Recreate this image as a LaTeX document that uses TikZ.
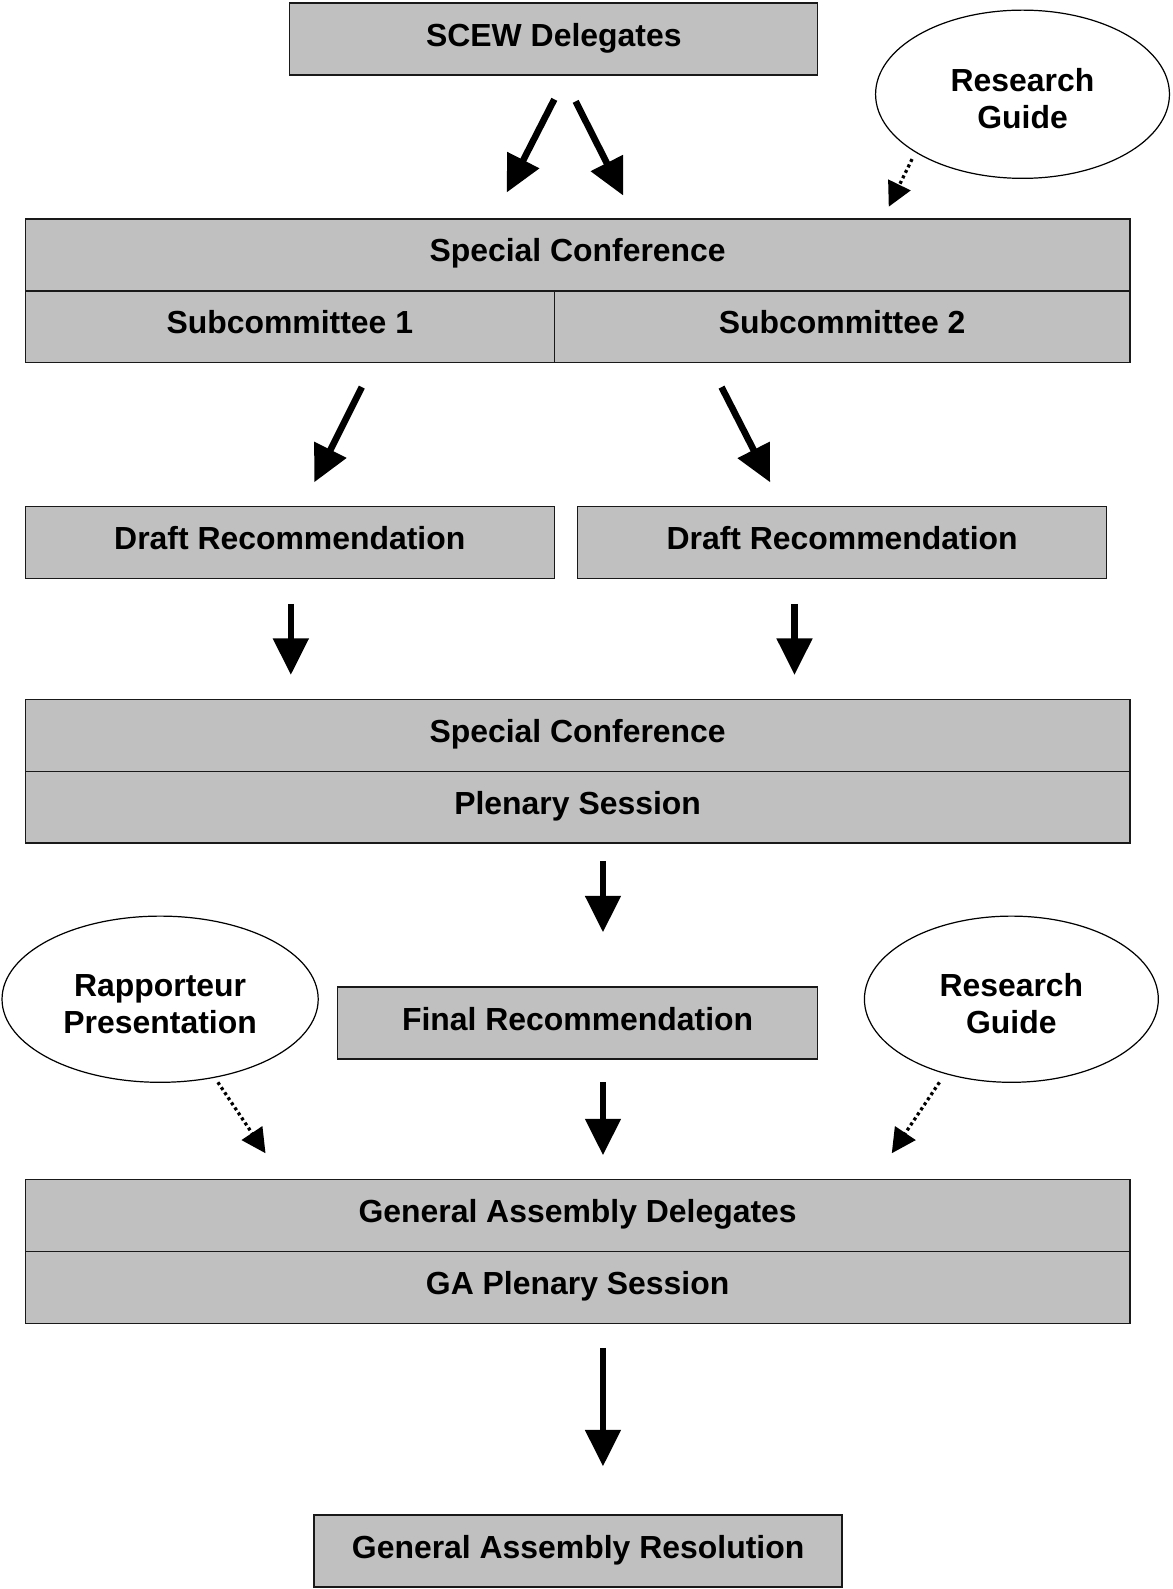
\documentclass[tikz,border=0pt]{standalone}
\usepackage{fontspec}
\setmainfont{Liberation Sans}
\usetikzlibrary{shapes.geometric,arrows.meta}
\definecolor{boxgray}{RGB}{192,192,192}
\begin{document}
\begin{tikzpicture}[x=1pt,y=-1pt,
 box/.style={draw=black!90,line width=1.3pt,fill=boxgray,minimum height=71pt,inner sep=0pt,
   font=\fontsize{31.5}{36}\selectfont\bfseries,text height=14pt,text depth=0pt},
 oval/.style={ellipse,draw=black,line width=1.2pt,fill=white,inner sep=0pt,align=center,
   font=\fontsize{31.5}{36.5}\selectfont\bfseries,text height=67pt,text depth=0pt},
 bigarrow/.style={line width=6.5pt,-{Triangle[length=36pt,width=34pt]}},
 dotarrow/.style={line width=3.2pt,dash pattern=on 3pt off 3pt,-{Triangle[length=24pt,width=24pt]}}]
\path[use as bounding box] (0,0) rectangle (1157,1568);

\node[box,minimum width=521pt] (scew) at (546.5,38.5) {SCEW Delegates};
\node[oval,minimum width=290pt,minimum height=166pt] (rg1) at (1009,93) {Research\\Guide};
\node[box,minimum width=1090pt] (sc1) at (570,251.5) {Special Conference};
\node[box,minimum width=522pt] (sub1) at (286,322.5) {Subcommittee 1};
\node[box,minimum width=568pt] (sub2) at (831,322.5) {Subcommittee 2};
\node[box,minimum width=522pt] (dr1) at (286,535.5) {Draft Recommendation};
\node[box,minimum width=522pt] (dr2) at (831,535.5) {Draft Recommendation};
\node[box,minimum width=1090pt] (sc2) at (570,725.5) {Special Conference};
\node[box,minimum width=1090pt] (ple) at (570,796.5) {Plenary Session};
\node[oval,minimum width=312pt,minimum height=164pt] (rap) at (158,986) {Rapporteur\\Presentation};
\node[box,minimum width=474pt] (fin) at (570,1009.5) {Final Recommendation};
\node[oval,minimum width=290pt,minimum height=164pt] (rg2) at (998,986) {Research\\Guide};
\node[box,minimum width=1090pt] (gad) at (570,1199.5) {General Assembly Delegates};
\node[box,minimum width=1090pt] (gap) at (570,1270.5) {GA Plenary Session};
\node[box,minimum width=521pt] (gar) at (570.5,1530.5) {General Assembly Resolution};

\coordinate (a1s) at (547,98);  \coordinate (a1e) at (500,190);
\coordinate (a2s) at (568,100); \coordinate (a2e) at (615,193);
\coordinate (d1s) at (900,157); \coordinate (d1e) at (877,204);
\coordinate (a3s) at (357,382); \coordinate (a3e) at (310,476);
\coordinate (a4s) at (712,382); \coordinate (a4e) at (760,476);
\coordinate (a5s) at (287,596); \coordinate (a5e) at (287,666);
\coordinate (a6s) at (784,596); \coordinate (a6e) at (784,666);
\coordinate (a7s) at (595,850); \coordinate (a7e) at (595,920);
\coordinate (d2s) at (215,1068); \coordinate (d2e) at (262,1138);
\coordinate (a8s) at (595,1068); \coordinate (a8e) at (595,1140);
\coordinate (d3s) at (927,1068); \coordinate (d3e) at (880,1138);
\coordinate (a9s) at (595,1330); \coordinate (a9e) at (595,1447);

\draw[bigarrow] (a1s) -- (a1e);
\draw[bigarrow] (a2s) -- (a2e);
\draw[dotarrow] (d1s) -- (d1e);
\draw[bigarrow] (a3s) -- (a3e);
\draw[bigarrow] (a4s) -- (a4e);
\draw[bigarrow] (a5s) -- (a5e);
\draw[bigarrow] (a6s) -- (a6e);
\draw[bigarrow] (a7s) -- (a7e);
\draw[dotarrow] (d2s) -- (d2e);
\draw[bigarrow] (a8s) -- (a8e);
\draw[dotarrow] (d3s) -- (d3e);
\draw[bigarrow] (a9s) -- (a9e);
\end{tikzpicture}
\end{document}
